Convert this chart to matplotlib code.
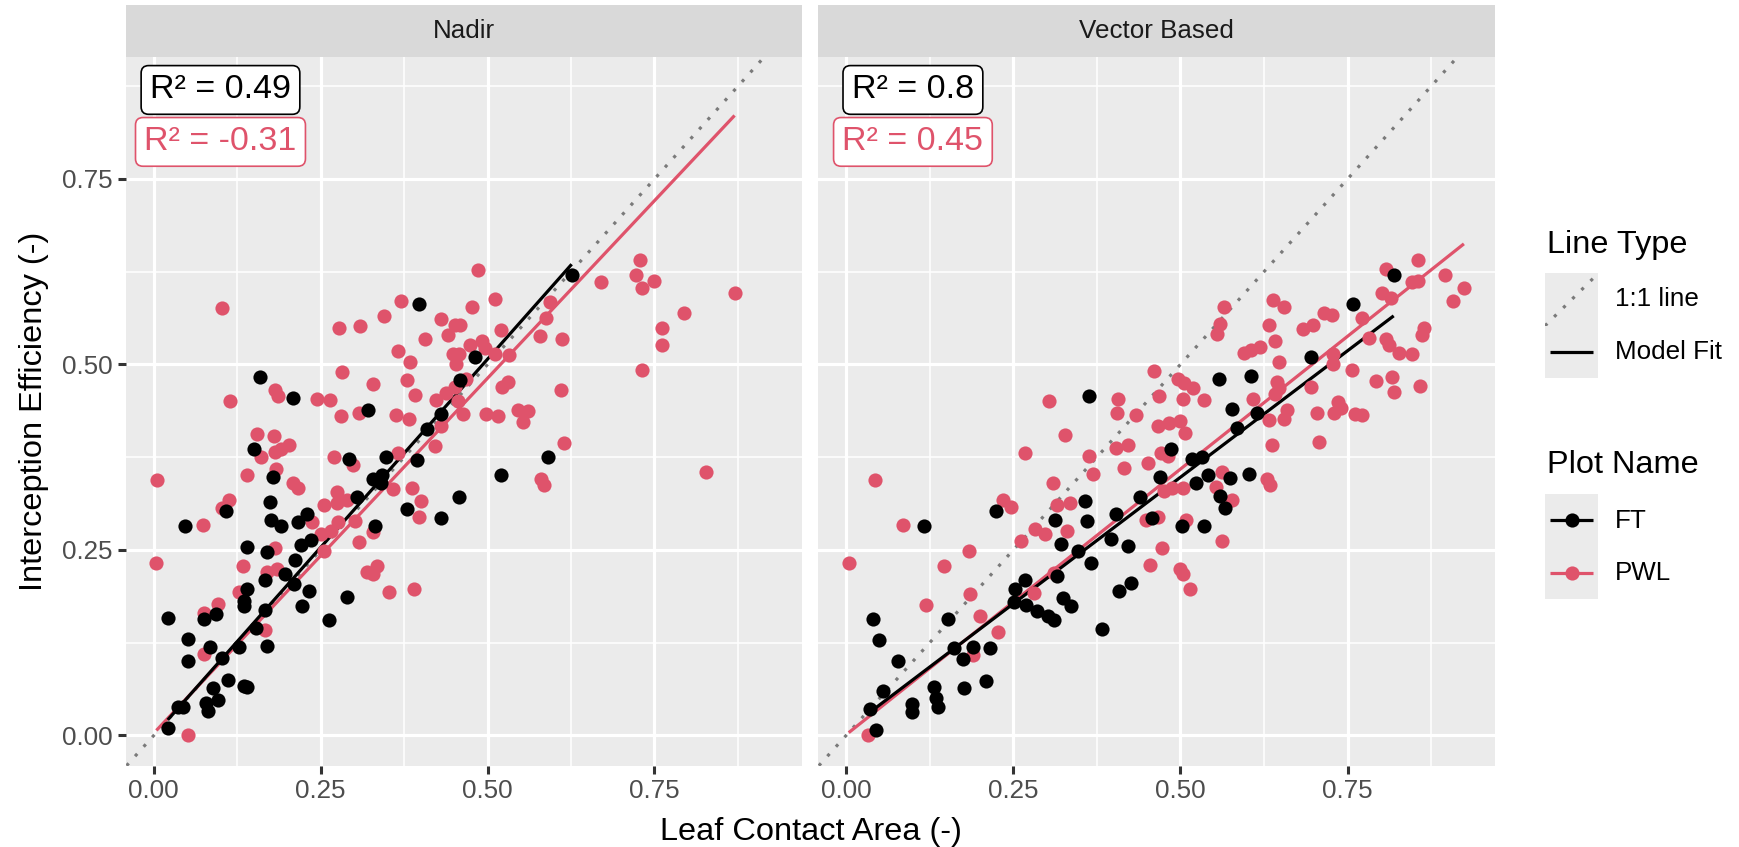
import numpy as np
import matplotlib
matplotlib.use("Agg")
import matplotlib.pyplot as plt
from matplotlib.patches import Rectangle

plt.rcParams['font.family'] = ['Liberation Sans', 'DejaVu Sans']

# ---------------------------------------------------------------- data
panels = ["Nadir", "Vector Based"]
series = ["FT", "PWL"]
series_colors = ["#000000", "#DF536B"]

nadir_ft_x = [0.397, 0.626, 0.481, 0.459, 0.159, 0.209, 0.321, 0.431, 0.409, 0.150,
              0.293, 0.348, 0.394, 0.179, 0.328, 0.342, 0.340, 0.590, 0.520, 0.457,
              0.304, 0.379, 0.430, 0.174, 0.109, 0.047, 0.176, 0.191, 0.216, 0.230,
              0.332, 0.236, 0.221, 0.139, 0.170, 0.212, 0.166, 0.196, 0.210, 0.233,
              0.222, 0.290, 0.263, 0.139, 0.135, 0.135, 0.167, 0.153, 0.170, 0.128,
              0.021, 0.075, 0.093, 0.051, 0.051, 0.084, 0.102, 0.111, 0.135, 0.140,
              0.089, 0.096, 0.079, 0.081, 0.037, 0.044, 0.021]
nadir_ft_y = [0.581, 0.620, 0.510, 0.479, 0.483, 0.455, 0.439, 0.433, 0.413, 0.386,
              0.373, 0.376, 0.371, 0.348, 0.346, 0.351, 0.340, 0.376, 0.351, 0.321,
              0.322, 0.305, 0.293, 0.315, 0.303, 0.283, 0.290, 0.282, 0.288, 0.298,
              0.282, 0.264, 0.257, 0.254, 0.247, 0.236, 0.210, 0.217, 0.204, 0.195,
              0.175, 0.186, 0.156, 0.197, 0.181, 0.175, 0.169, 0.145, 0.120, 0.119,
              0.158, 0.157, 0.164, 0.130, 0.101, 0.119, 0.105, 0.075, 0.067, 0.066,
              0.064, 0.048, 0.044, 0.033, 0.038, 0.039, 0.010]

nadir_pwl_x = [0.486, 0.103, 0.371, 0.345, 0.277, 0.309, 0.431, 0.451, 0.458, 0.476,
               0.511, 0.441, 0.407, 0.520, 0.593, 0.587, 0.579, 0.611, 0.670, 0.366,
               0.384, 0.474, 0.492, 0.496, 0.448, 0.457, 0.452, 0.511, 0.532, 0.282,
               0.328, 0.380, 0.392, 0.114, 0.182, 0.186, 0.245, 0.264, 0.281, 0.307,
               0.363, 0.382, 0.423, 0.438, 0.451, 0.468, 0.455, 0.463, 0.497, 0.516,
               0.522, 0.531, 0.545, 0.560, 0.553, 0.610, 0.615, 0.155, 0.180, 0.182,
               0.191, 0.202, 0.160, 0.183, 0.139, 0.270, 0.299, 0.366, 0.431, 0.421,
               0.209, 0.216, 0.359, 0.387, 0.401, 0.398, 0.580, 0.585, 0.113, 0.103,
               0.074, 0.274, 0.274, 0.255, 0.289, 0.276, 0.237, 0.266, 0.251, 0.301,
               0.329, 0.307, 0.181, 0.255, 0.005, 0.004, 0.134, 0.170, 0.185, 0.128,
               0.096, 0.076, 0.075, 0.167, 0.051, 0.319, 0.328, 0.335, 0.352, 0.390,
               0.729, 0.722, 0.731, 0.749, 0.870, 0.794, 0.762, 0.762, 0.731, 0.827]
nadir_pwl_y = [0.628, 0.576, 0.585, 0.566, 0.549, 0.552, 0.561, 0.553, 0.553, 0.577,
               0.588, 0.540, 0.535, 0.547, 0.584, 0.562, 0.538, 0.535, 0.611, 0.518,
               0.503, 0.526, 0.532, 0.522, 0.514, 0.514, 0.501, 0.514, 0.513, 0.490,
               0.474, 0.479, 0.459, 0.451, 0.466, 0.457, 0.453, 0.452, 0.431, 0.434,
               0.432, 0.426, 0.452, 0.462, 0.469, 0.480, 0.451, 0.433, 0.433, 0.431,
               0.470, 0.476, 0.439, 0.437, 0.423, 0.465, 0.394, 0.406, 0.404, 0.382,
               0.386, 0.391, 0.376, 0.359, 0.351, 0.376, 0.365, 0.381, 0.417, 0.390,
               0.340, 0.333, 0.332, 0.333, 0.316, 0.294, 0.346, 0.338, 0.318, 0.307,
               0.284, 0.328, 0.313, 0.310, 0.318, 0.288, 0.288, 0.275, 0.271, 0.289,
               0.274, 0.261, 0.253, 0.249, 0.344, 0.233, 0.228, 0.221, 0.225, 0.193,
               0.177, 0.165, 0.110, 0.142, 0.001, 0.220, 0.218, 0.229, 0.194, 0.198,
               0.641, 0.620, 0.603, 0.613, 0.597, 0.570, 0.549, 0.526, 0.493, 0.355]

vector_ft_x = [0.819, 0.758, 0.696, 0.557, 0.605, 0.364, 0.577, 0.614, 0.584, 0.486,
               0.518, 0.533, 0.470, 0.541, 0.524, 0.574, 0.603, 0.559, 0.567, 0.439,
               0.403, 0.457, 0.502, 0.535, 0.357, 0.361, 0.312, 0.224, 0.322, 0.347,
               0.396, 0.421, 0.116, 0.041, 0.049, 0.077, 0.055, 0.036, 0.045, 0.098,
               0.098, 0.131, 0.134, 0.137, 0.177, 0.209, 0.162, 0.175, 0.190, 0.216,
               0.153, 0.253, 0.268, 0.251, 0.269, 0.286, 0.302, 0.311, 0.325, 0.337,
               0.315, 0.383, 0.408, 0.426, 0.367]
vector_ft_y = [0.621, 0.582, 0.510, 0.480, 0.484, 0.457, 0.440, 0.434, 0.414, 0.386,
               0.373, 0.375, 0.349, 0.351, 0.340, 0.347, 0.352, 0.323, 0.306, 0.322,
               0.299, 0.293, 0.283, 0.283, 0.316, 0.289, 0.291, 0.303, 0.258, 0.248,
               0.265, 0.255, 0.283, 0.157, 0.129, 0.100, 0.060, 0.036, 0.008, 0.043,
               0.031, 0.066, 0.050, 0.038, 0.064, 0.073, 0.118, 0.103, 0.119, 0.118,
               0.157, 0.197, 0.209, 0.180, 0.176, 0.168, 0.161, 0.155, 0.185, 0.174,
               0.215, 0.143, 0.195, 0.205, 0.233]

vector_pwl_x = [0.855, 0.807, 0.847, 0.855, 0.801, 0.815, 0.896, 0.639, 0.655, 0.565,
                0.559, 0.555, 0.632, 0.642, 0.647, 0.684, 0.698, 0.715, 0.726, 0.771,
                0.782, 0.807, 0.812, 0.827, 0.847, 0.861, 0.865, 0.728, 0.728, 0.756,
                0.792, 0.816, 0.820, 0.858, 0.595, 0.605, 0.619, 0.497, 0.506, 0.519,
                0.461, 0.468, 0.504, 0.536, 0.608, 0.644, 0.647, 0.642, 0.696, 0.735,
                0.729, 0.740, 0.704, 0.761, 0.772, 0.659, 0.655, 0.632, 0.637, 0.708,
                0.303, 0.407, 0.405, 0.434, 0.328, 0.268, 0.467, 0.483, 0.500, 0.507,
                0.403, 0.422, 0.364, 0.369, 0.415, 0.452, 0.471, 0.481, 0.310, 0.316,
                0.335, 0.234, 0.246, 0.283, 0.298, 0.331, 0.262, 0.476, 0.488, 0.504,
                0.562, 0.553, 0.577, 0.629, 0.634, 0.448, 0.466, 0.509, 0.472, 0.562,
                0.004, 0.044, 0.085, 0.119, 0.146, 0.184, 0.186, 0.200, 0.227, 0.190,
                0.033, 0.281, 0.311, 0.454, 0.499, 0.504, 0.514, 0.924, 0.907]
vector_pwl_y = [0.641, 0.629, 0.611, 0.613, 0.597, 0.589, 0.620, 0.587, 0.578, 0.577,
                0.554, 0.541, 0.553, 0.532, 0.504, 0.548, 0.553, 0.570, 0.567, 0.562,
                0.536, 0.535, 0.526, 0.515, 0.514, 0.540, 0.549, 0.514, 0.501, 0.492,
                0.478, 0.483, 0.463, 0.471, 0.515, 0.519, 0.523, 0.481, 0.475, 0.468,
                0.491, 0.458, 0.453, 0.452, 0.454, 0.477, 0.468, 0.460, 0.470, 0.450,
                0.435, 0.441, 0.435, 0.433, 0.432, 0.439, 0.427, 0.425, 0.392, 0.395,
                0.451, 0.454, 0.434, 0.432, 0.405, 0.381, 0.417, 0.421, 0.424, 0.407,
                0.387, 0.392, 0.377, 0.352, 0.360, 0.367, 0.381, 0.377, 0.340, 0.311,
                0.314, 0.318, 0.308, 0.278, 0.271, 0.275, 0.262, 0.330, 0.334, 0.333,
                0.355, 0.335, 0.317, 0.346, 0.338, 0.290, 0.295, 0.291, 0.253, 0.262,
                0.232, 0.344, 0.284, 0.176, 0.228, 0.249, 0.191, 0.161, 0.140, 0.109,
                0.000, 0.192, 0.219, 0.230, 0.224, 0.218, 0.198, 0.603, 0.586]

# linear model fits per panel, ordered as in `series`
fit_intercept = {"Nadir": [-0.0003, 0.003], "Vector Based": [0.007, 0.001]}
fit_slope = {"Nadir": [1.015, 0.957], "Vector Based": [0.682, 0.716]}

# goodness of fit labels, ordered as in `series`
r2_labels = {"Nadir": ["0.49", "-0.31"], "Vector Based": ["0.8", "0.45"]}
r2_label_x = 0.1
r2_label_y = [0.87, 0.80]

panel_data = {
    "Nadir": [(nadir_ft_x, nadir_ft_y), (nadir_pwl_x, nadir_pwl_y)],
    "Vector Based": [(vector_ft_x, vector_ft_y), (vector_pwl_x, vector_pwl_y)],
}

major_ticks = [0.0, 0.25, 0.5, 0.75]
tick_labels = ["0.00", "0.25", "0.50", "0.75"]
minor_ticks = [0.125, 0.375, 0.625, 0.875]

# ---------------------------------------------------------------- layout
W, H = 1739, 847
fig = plt.figure(figsize=(W / 100, H / 100), dpi=100)
fig.patch.set_facecolor("white")


def box(x0, y0, x1, y1):
    """Figure-fraction rectangle from pixel edges (y measured from the top)."""
    return [x0 / W, 1 - y1 / H, (x1 - x0) / W, (y1 - y0) / H]


panel_boxes = [(126, 57, 801.7, 765.7), (818.3, 57, 1495, 765.7)]
XLIM = (-0.0415, 0.9705)
YLIM = (-0.0407, 0.9144)

TICK_FS = 18.7
TITLE_FS = 23.4
POINT_MS = 10.2
LINE_W = 2.3

for i, (name, pb) in enumerate(zip(panels, panel_boxes)):
    ax = fig.add_axes(box(*pb))
    ax.set_facecolor("#EBEBEB")
    ax.set_xlim(*XLIM)
    ax.set_ylim(*YLIM)
    for s in ax.spines.values():
        s.set_visible(False)
    ax.set_xticks(major_ticks)
    ax.set_xticklabels(tick_labels)
    ax.set_yticks(major_ticks)
    ax.set_yticklabels(tick_labels)
    ax.set_xticks(minor_ticks, minor=True)
    ax.set_yticks(minor_ticks, minor=True)
    ax.grid(which="major", color="white", lw=2.3)
    ax.grid(which="minor", color="white", lw=1.15)
    ax.set_axisbelow(True)
    ax.tick_params(which="major", length=5.9, width=2.2, color="#333333",
                   labelsize=TICK_FS, labelcolor="#4D4D4D", pad=4)
    ax.tick_params(which="minor", length=0)
    if i == 1:
        ax.tick_params(axis="y", which="both", left=False, labelleft=False)

    # 1:1 reference line
    ax.axline((0, 0), slope=1, color="#7A7A7A", lw=2.3,
              linestyle=(0, (1, 3)), zorder=1.5)

    # model fits over each series' observed range
    for k in [1, 0]:
        xs = np.asarray(panel_data[name][k][0])
        xr = np.array([xs.min(), xs.max()])
        ax.plot(xr, fit_intercept[name][k] + fit_slope[name][k] * xr,
                color=series_colors[k], lw=LINE_W, solid_capstyle="butt",
                zorder=2)

    # observations
    for k in [1, 0]:
        x, y = panel_data[name][k]
        ax.plot(x, y, "o", ms=POINT_MS, mew=0, color=series_colors[k],
                zorder=3)

    # R² labels
    for k in range(2):
        ax.text(r2_label_x, r2_label_y[k], f"R\u00b2 = {r2_labels[name][k]}",
                fontsize=24.5, ha="center", va="center",
                color=series_colors[k], zorder=5,
                bbox=dict(boxstyle="round,pad=0.26,rounding_size=0.22",
                          fc="white", ec=series_colors[k], lw=1.2))

    # facet strip
    sx0, _, sx1, _ = pb
    sax = fig.add_axes(box(sx0, 5, sx1, 57))
    sax.set_facecolor("#D9D9D9")
    sax.set_xticks([])
    sax.set_yticks([])
    for s in sax.spines.values():
        s.set_visible(False)
    sax.text(0.5, 0.5, name, transform=sax.transAxes, ha="center",
             va="center", fontsize=TICK_FS, color="#1A1A1A")

# axis titles
fig.text(810.5 / W, 1 - 840 / H, "Leaf Contact Area (-)", ha="center",
         va="baseline", fontsize=TITLE_FS, color="black")
fig.text(34.5 / W, 1 - 411.4 / H, "Interception Efficiency (-)",
         rotation=90, ha="center", va="center", fontsize=TITLE_FS,
         color="black")

# ---------------------------------------------------------------- legends
lg = fig.add_axes([0, 0, 1, 1], zorder=10)
lg.set_xlim(0, W)
lg.set_ylim(H, 0)
lg.axis("off")
lg.patch.set_alpha(0)

KX0, KX1 = 1545, 1598.3
LBL_X = 1615

lg.text(1546.7, 252.7, "Line Type", fontsize=TITLE_FS, va="baseline",
        ha="left", color="black")
lg.add_patch(Rectangle((KX0, 273.3), KX1 - KX0, 105, fc="#EBEBEB", ec="none"))
diag, = lg.plot([KX0, KX1], [325.8, 273.3], color="#7A7A7A", lw=2.3,
                linestyle=(0, (1, 3)))
diag.set_clip_path(Rectangle((KX0, 273.3), KX1 - KX0, 52.5,
                             transform=lg.transData))
lg.plot([1550.3, 1593], [352, 352], color="black", lw=LINE_W,
        solid_capstyle="butt")
lg.text(LBL_X, 299.5, "1:1 line", fontsize=TICK_FS, va="center", ha="left")
lg.text(LBL_X, 352, "Model Fit", fontsize=TICK_FS, va="center", ha="left")

lg.text(1546.7, 473.3, "Plot Name", fontsize=TITLE_FS, va="baseline",
        ha="left", color="black")
lg.add_patch(Rectangle((KX0, 494.3), KX1 - KX0, 104.7, fc="#EBEBEB",
                       ec="none"))
for k, yc in enumerate([520.5, 572.8]):
    lg.plot([1550.3, 1593], [yc, yc], color=series_colors[k], lw=LINE_W,
            solid_capstyle="butt")
    lg.plot([1571.7], [yc], "o", ms=POINT_MS, mew=0, color=series_colors[k])
    lg.text(LBL_X, yc, series[k], fontsize=TICK_FS, va="center", ha="left")

fig.savefig("out.png", dpi=100, facecolor="white")
